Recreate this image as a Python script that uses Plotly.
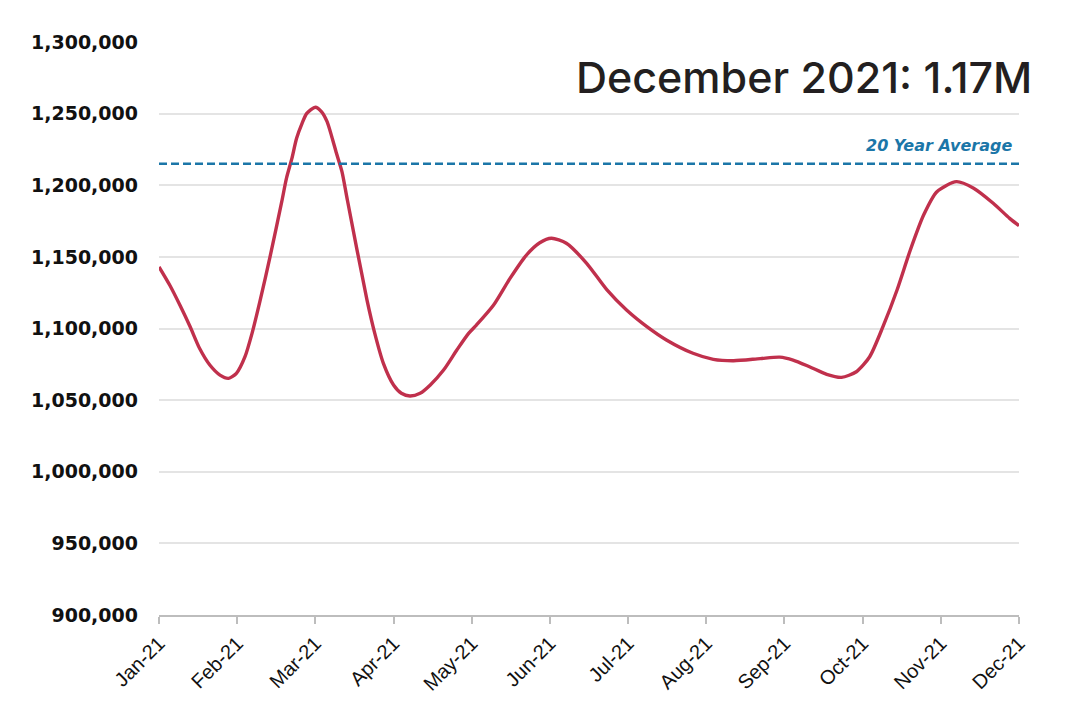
import plotly.graph_objects as go

# month position (0 = Jan-21 ... 11 = Dec-21) and values
month_pos = [0.00, 0.14, 0.27, 0.40, 0.52, 0.65, 0.78, 0.89, 0.99, 1.10, 1.19, 1.29,
             1.42, 1.57, 1.63, 1.70, 1.76, 1.83, 1.89, 2.00, 2.08, 2.15, 2.21, 2.27,
             2.34, 2.41, 2.66, 2.76, 2.87, 3.00, 3.10, 3.21, 3.34, 3.47,
             3.64, 3.81, 3.96, 4.06, 4.28, 4.49, 4.70, 4.87, 5.02, 5.21, 5.47, 5.73,
             5.98, 6.24, 6.49, 6.83, 7.09, 7.35, 7.69, 7.94, 8.11, 8.32, 8.54, 8.73,
             8.92, 9.09, 9.26, 9.44, 9.61, 9.78, 9.95, 10.20, 10.42, 10.67, 10.88, 11.00]
values = [1143000, 1130000, 1116000, 1101000, 1086000, 1074500, 1067500, 1065200, 1068700,
          1080300, 1096600, 1118700, 1150000, 1188500, 1204800, 1218800, 1232800, 1243200,
          1250200, 1254500, 1251300, 1244400, 1233900, 1222300, 1209500, 1189500,
          1120000, 1096600, 1075700, 1060600, 1054800, 1052900, 1054800, 1060600,
          1071000, 1085000, 1096600, 1102400, 1116400, 1135000, 1151300, 1159900, 1163000,
          1159500, 1145500, 1126900, 1112900, 1101300, 1092000, 1082700, 1078500, 1077500,
          1079000, 1080000, 1078000, 1073300, 1068000, 1065900, 1069800, 1080300, 1101300,
          1126900, 1154800, 1179200, 1195500, 1202500, 1197900, 1187400, 1176900, 1171800]

tick_labels = ["Jan-21", "Feb-21", "Mar-21", "Apr-21", "May-21", "Jun-21",
               "Jul-21", "Aug-21", "Sep-21", "Oct-21", "Nov-21", "Dec-21"]
y_ticks = [900000, 950000, 1000000, 1050000, 1100000, 1150000, 1200000, 1250000, 1300000]
avg_20yr = 1215000
title_text = "December 2021: 1.17M"
avg_label = "20 Year Average"

fig = go.Figure()
fig.add_trace(go.Scatter(
    x=month_pos, y=values, mode="lines",
    line=dict(color="#C0304C", width=3.4, shape="spline", smoothing=0.7),
    hoverinfo="skip", showlegend=False,
))

fig.add_shape(type="line", xref="paper", yref="y", x0=0, x1=1, y0=avg_20yr, y1=avg_20yr,
              line=dict(color="#1B76A8", width=2.5, dash="8px,4px"))

fig.add_annotation(text=avg_label, xref="paper", yref="paper", x=0.9942, y=0.8185,
                   xanchor="right", yanchor="middle", showarrow=False,
                   font=dict(family="DejaVu Sans", size=16, color="#1B76A8",
                             style="italic", weight=600))

fig.add_annotation(text=title_text, xref="paper", yref="paper", x=1.0174, y=0.939,
                   xanchor="right", yanchor="middle", showarrow=False,
                   font=dict(family="Inter", size=43, color="#231F20", weight=500))

fig.update_layout(
    width=1060, height=690,
    margin=dict(l=151, r=49, t=34, b=83, autoexpand=False),
    plot_bgcolor="white", paper_bgcolor="white",
    xaxis=dict(
        range=[0, 11], tickvals=list(range(12)), ticktext=tick_labels,
        tickangle=-45, showgrid=False, zeroline=False, automargin=False,
        showline=True, linecolor="#BDBDBD", linewidth=1.5,
        ticks="outside", ticklen=7, tickcolor="#BDBDBD", tickwidth=1.5,
        tickfont=dict(family="Liberation Sans", size=20, color="#111111"),
    ),
    yaxis=dict(
        range=[900000, 1300000], tickvals=y_ticks,
        ticktext=[f"{v:,}" for v in y_ticks], automargin=False,
        showgrid=True, gridcolor="#E4E4E4", gridwidth=1.5,
        zeroline=False, showline=False, ticks="", ticklabelstandoff=20,
        tickfont=dict(family="DejaVu Sans", size=19, color="#111111", weight="bold"),
    ),
)

fig.write_html("out.html")
